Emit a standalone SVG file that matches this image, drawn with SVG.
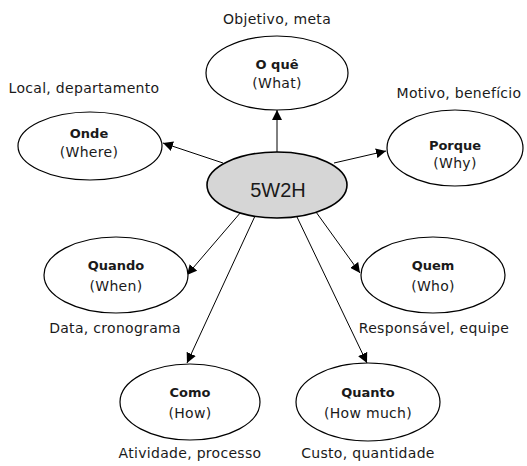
<svg xmlns="http://www.w3.org/2000/svg" width="527" height="466" viewBox="0 0 527 466">
  <style>
    ellipse { fill: #ffffff; stroke: #000000; stroke-width: 1.2; }
    #hub ellipse { fill: #d6d6d6; stroke-width: 1.6; }
    text { font-family: "DejaVu Sans", sans-serif; fill: #1a1a1a; text-anchor: middle; }
    .title { font-size: 13px; font-weight: bold; }
    .sub { font-size: 14px; letter-spacing: 0.3px; }
    .note { font-size: 14px; letter-spacing: 0.3px; }
    .hubtext { font-family: "Liberation Sans", Arial, sans-serif; font-size: 20px; }
    #connectors line { stroke: #000000; stroke-width: 1; marker-end: url(#arrow); }
  </style>
  <defs>
    <marker id="arrow" viewBox="0 0 10 10" refX="10" refY="5" markerWidth="10" markerHeight="10" markerUnits="userSpaceOnUse" orient="auto">
      <path d="M0,0 L10,5 L0,10 z" fill="#000000"/>
    </marker>
  </defs>

  <rect width="527" height="466" fill="#ffffff"/>

  <!-- spokes from the hub out to each question -->
  <g id="connectors">
    <line x1="277" y1="152" x2="277" y2="110"/>
    <line x1="223" y1="163" x2="163" y2="143"/>
    <line x1="334" y1="163" x2="386" y2="151"/>
    <line x1="241" y1="212" x2="187" y2="275"/>
    <line x1="316" y1="212" x2="360" y2="273"/>
    <line x1="255" y1="216" x2="187" y2="363"/>
    <line x1="297" y1="217" x2="367" y2="363"/>
  </g>

  <g id="hub">
    <ellipse cx="277" cy="185" rx="70" ry="33"/>
    <text class="hubtext" x="278" y="197">5W2H</text>
  </g>

  <g id="what" class="node">
    <text class="note" x="277" y="24">Objetivo, meta</text>
    <ellipse cx="277" cy="73" rx="71" ry="37"/>
    <text class="title" x="277" y="69">O quê</text>
    <text class="sub" x="277" y="88">(What)</text>
  </g>

  <g id="where" class="node">
    <text class="note" x="84" y="93">Local, departamento</text>
    <ellipse cx="90" cy="146" rx="72" ry="34"/>
    <text class="title" x="89" y="138">Onde</text>
    <text class="sub" x="89" y="157">(Where)</text>
  </g>

  <g id="why" class="node">
    <text class="note" x="459" y="98">Motivo, benefício</text>
    <ellipse cx="455" cy="148" rx="68" ry="38"/>
    <text class="title" x="455" y="150">Porque</text>
    <text class="sub" x="455" y="168">(Why)</text>
  </g>

  <g id="when" class="node">
    <text class="note" x="115" y="333">Data, cronograma</text>
    <ellipse cx="116" cy="275" rx="72" ry="38"/>
    <text class="title" x="116" y="270">Quando</text>
    <text class="sub" x="116" y="291">(When)</text>
  </g>

  <g id="who" class="node">
    <text class="note" x="434" y="333">Responsável, equipe</text>
    <ellipse cx="433" cy="275" rx="72" ry="38"/>
    <text class="title" x="433" y="270">Quem</text>
    <text class="sub" x="433" y="291">(Who)</text>
  </g>

  <g id="how" class="node">
    <text class="note" x="190" y="458">Atividade, processo</text>
    <ellipse cx="190" cy="402" rx="70" ry="38"/>
    <text class="title" x="190" y="397">Como</text>
    <text class="sub" x="190" y="418">(How)</text>
  </g>

  <g id="howmuch" class="node">
    <text class="note" x="368" y="458">Custo, quantidade</text>
    <ellipse cx="368" cy="402" rx="72" ry="39"/>
    <text class="title" x="368" y="397">Quanto</text>
    <text class="sub" x="368" y="418">(How much)</text>
  </g>
</svg>
